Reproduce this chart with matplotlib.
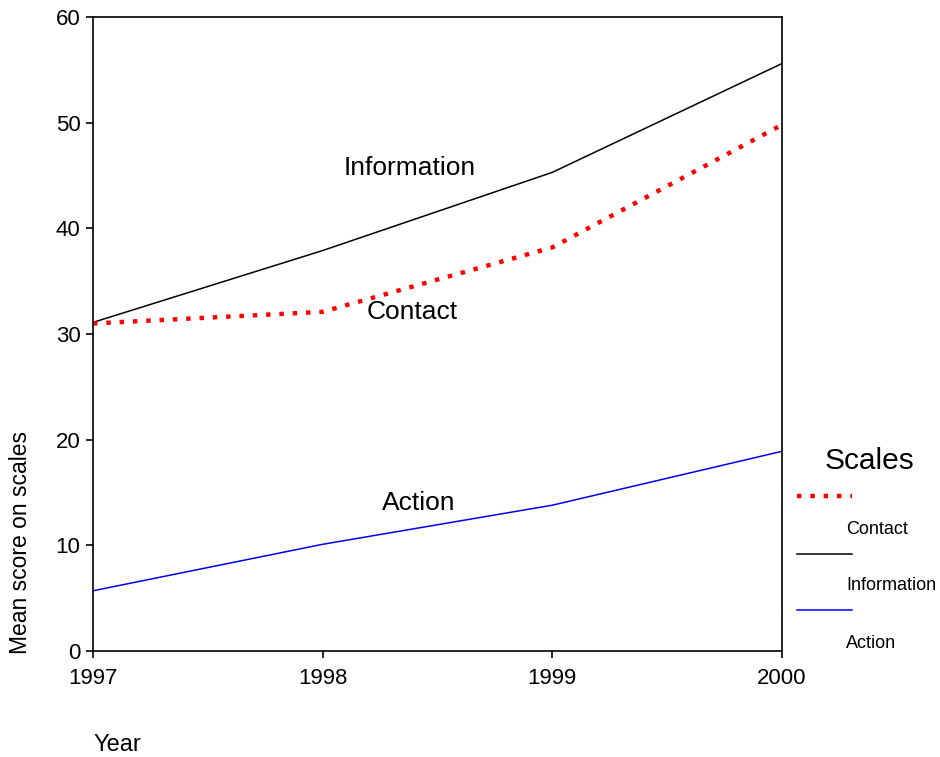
import matplotlib.pyplot as plt
from matplotlib.lines import Line2D

plt.rcParams['font.family'] = ['Liberation Sans', 'DejaVu Sans']

# dati
years = [1997, 1998, 1999, 2000]
contact = [31.0, 32.1, 38.2, 49.8]
information = [31.1, 37.9, 45.3, 55.6]
action = [5.7, 10.1, 13.8, 18.9]

fig = plt.figure(figsize=(9.4, 7.57), dpi=100)
ax = fig.add_axes([0.0989, 0.140, 0.733, 0.8375])

ax.plot(years, information, color='black', lw=1.1)
ax.plot(years, action, color='#0000ee', lw=1.1)
ax.plot(years, contact, color='red', lw=3.2, linestyle=(0, (1, 2)),
        dash_capstyle='butt')

ax.set_xlim(1997, 2000)
ax.set_ylim(0, 60)
ax.set_xticks(years)
ax.set_xticklabels([str(y) for y in years])
ax.set_yticks(range(0, 61, 10))
ax.tick_params(direction='out', length=5, width=1.2, labelsize=16)
ax.tick_params(axis='x', pad=7)
ax.tick_params(axis='y', pad=4)
for s in ax.spines.values():
    s.set_linewidth(1.2)

# etichette sulle linee
ax.text(1998.38, 45.7, "Information", fontsize=19, ha='center', va='center')
ax.text(1998.39, 32.1, "Contact", fontsize=19, ha='center', va='center')
ax.text(1998.42, 14.0, "Action", fontsize=19, ha='center', va='center')

# titoli degli assi
fig.text(0.022, 1 - 542 / 757, "Mean score on scales", rotation=90,
         fontsize=16.5, ha='center', va='center')
fig.text(93 / 940, 1 - 745 / 757, "Year", fontsize=17, ha='left', va='center')

# legenda manuale
fig.text(869 / 940, 1 - 461 / 757, "Scales", fontsize=21.5, ha='center', va='center')
keys = [("Contact", 'red', 3.2, (0, (1, 2)), 496, 530),
        ("Information", 'black', 1.1, '-', 554, 586),
        ("Action", '#0000ee', 1.1, '-', 610, 643)]
for name, col, lw, ls, ly, ty in keys:
    fig.add_artist(Line2D([797 / 940, 852 / 940], [1 - ly / 757, 1 - ly / 757],
                          color=col, lw=lw, linestyle=ls, dash_capstyle='butt'))
    fig.text(846 / 940, 1 - ty / 757, name, fontsize=13, ha='left', va='center')

plt.savefig("out.png", dpi=100)
plt.close()
